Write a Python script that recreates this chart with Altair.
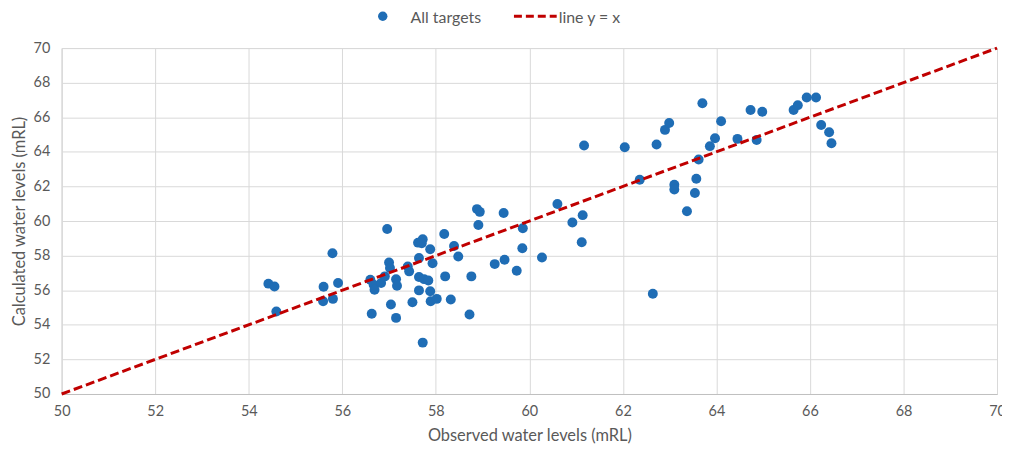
import altair as alt
import pandas as pd

observed = [
    54.42, 54.55, 54.59, 55.60, 55.59, 55.79, 55.80, 55.91, 56.96, 56.63,
    56.60, 56.67, 56.69, 56.83, 56.91, 57.00, 57.02, 57.04, 57.15, 57.17,
    57.15, 57.40, 57.43, 57.50, 57.62, 57.72, 57.70, 57.64, 57.64, 57.75,
    57.84, 57.64, 57.88, 57.89, 58.02, 57.72, 57.88, 57.93, 58.18, 58.20,
    58.32, 58.39, 58.48, 58.72, 58.76, 58.88, 58.94, 58.91, 59.45, 59.26,
    59.47, 59.73, 59.86, 59.85, 60.27, 60.60, 60.92, 61.14, 61.12, 61.17,
    62.04, 62.36, 62.64, 62.72, 62.90, 62.99, 63.10, 63.10, 63.37, 63.54,
    63.57, 63.62, 63.70, 63.86, 63.97, 64.10, 64.45, 64.73, 64.86, 64.98,
    65.65, 65.74, 65.93, 66.13, 66.24, 66.41, 66.46,
]
calculated = [
    56.38, 56.21, 54.77, 56.20, 55.36, 58.14, 55.50, 56.42, 59.54, 54.64,
    56.60, 56.32, 56.03, 56.42, 56.80, 57.60, 57.28, 55.17, 56.64, 56.26,
    54.40, 57.37, 57.09, 55.30, 58.75, 58.95, 58.72, 57.86, 56.76, 56.64,
    56.56, 55.99, 55.94, 55.36, 55.50, 52.97, 58.37, 57.56, 59.25, 56.80,
    55.46, 58.56, 57.95, 54.60, 56.80, 60.69, 60.53, 59.77, 60.46, 57.51,
    57.76, 57.13, 59.58, 58.43, 57.89, 60.98, 59.92, 60.34, 58.77, 64.37,
    64.27, 62.39, 55.80, 64.43, 65.27, 65.67, 62.10, 61.82, 60.57, 61.62,
    62.45, 63.56, 66.81, 64.33, 64.79, 65.77, 64.75, 66.42, 64.69, 66.32,
    66.42, 66.70, 67.14, 67.14, 65.55, 65.13, 64.50,
]
line_x = [50, 70]
line_y = [50, 70]
ticks = [50, 52, 54, 56, 58, 60, 62, 64, 66, 68, 70]
legend_labels = ["All targets", "line y = x"]

FONT = "Lato"
GREY = "#595959"
BLUE = "#1f6db5"
RED = "#c00000"

pts = pd.DataFrame({"obs": observed, "calc": calculated})
ln = pd.DataFrame({"obs": line_x, "calc": line_y})

xs = alt.Scale(domain=[50, 70], nice=False, zero=False)
ys = alt.Scale(domain=[50, 70], nice=False, zero=False)

common = dict(values=ticks, grid=True, gridColor="#d9d9d9", ticks=False,
              labelFontSize=14.5, titleFontSize=16.5, labelColor=GREY, titleColor=GREY,
              labelFont=FONT, titleFont=FONT, titleFontWeight="normal",
              labelOverlap=False, labelFlush=False)
xaxis = alt.Axis(title="Observed water levels (mRL)", domainColor="#bfbfbf",
                 labelPadding=11, titlePadding=9, **common)
yaxis = alt.Axis(title="Calculated water levels (mRL)", domainColor="#d9d9d9",
                 labelPadding=12, titlePadding=6, **common)

points = alt.Chart(pts).mark_circle(size=100, color=BLUE, opacity=1).encode(
    x=alt.X("obs:Q", scale=xs, axis=xaxis),
    y=alt.Y("calc:Q", scale=ys, axis=yaxis),
)

line = alt.Chart(ln).mark_line(color=RED, strokeWidth=3, strokeDash=[9, 4]).encode(
    x=alt.X("obs:Q", scale=xs, axis=xaxis),
    y=alt.Y("calc:Q", scale=ys, axis=yaxis),
)

# manual legend above the plot
leg_dot = alt.Chart(pd.DataFrame({"a": [0]})).mark_circle(size=90, color=BLUE, opacity=1, clip=False).encode(
    x=alt.value(323), y=alt.value(-32))
leg_t1 = alt.Chart(pd.DataFrame({"t": [legend_labels[0]]})).mark_text(
    align="left", baseline="middle", fontSize=16, font=FONT, color=GREY, clip=False).encode(
    x=alt.value(351), y=alt.value(-30), text="t:N")
leg_line = alt.Chart(pd.DataFrame({"a": [0]})).mark_rule(color=RED, strokeWidth=3, strokeDash=[8, 4], clip=False).encode(
    x=alt.value(455), x2=alt.value(498), y=alt.value(-32))
leg_t2 = alt.Chart(pd.DataFrame({"t": [legend_labels[1]]})).mark_text(
    align="left", baseline="middle", fontSize=16, font=FONT, color=GREY, clip=False).encode(
    x=alt.value(500), y=alt.value(-30), text="t:N")

chart = alt.layer(points, line, leg_dot, leg_t1, leg_line, leg_t2).properties(
    width=941, height=348,
    autosize=alt.AutoSizeParams(type="none"),
    padding={"left": 54, "top": 39, "right": 5, "bottom": 50},
).configure_view(stroke="#d9d9d9").configure(background="white")

chart.save("out.html", embed_options={"renderer": "svg", "actions": False})
